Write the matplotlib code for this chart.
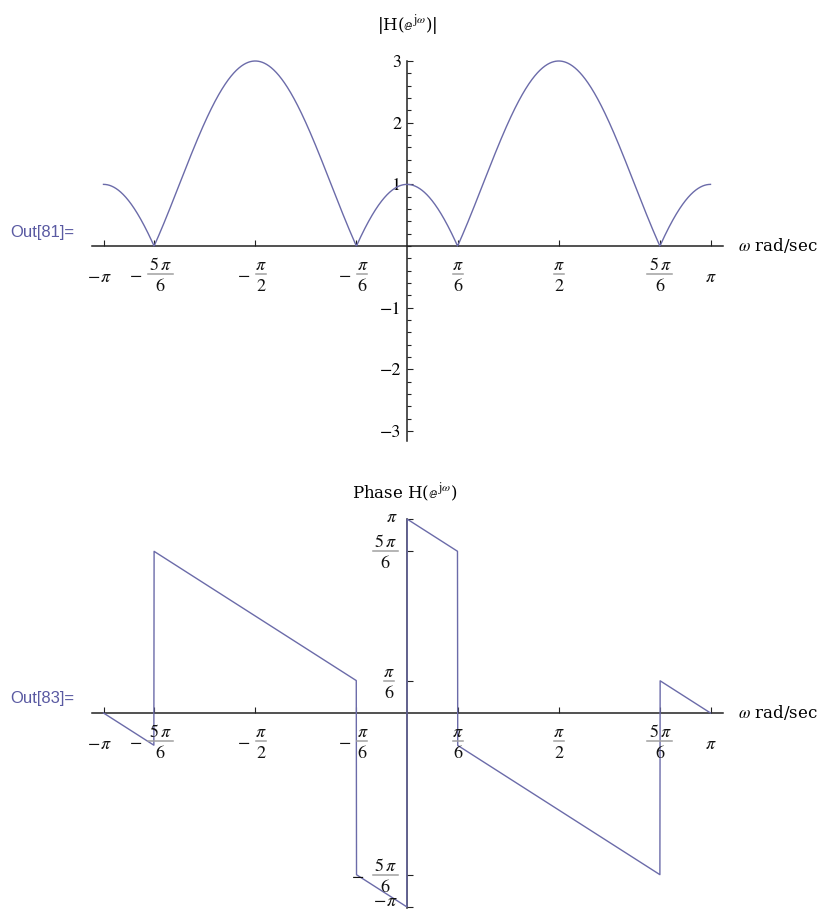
import numpy as np
import matplotlib
matplotlib.use("Agg")
import matplotlib.pyplot as plt
from matplotlib.lines import Line2D
from matplotlib.transforms import IdentityTransform

plt.rcParams['mathtext.fontset'] = 'stix'
plt.rcParams['font.family'] = ['STIXGeneral', 'DejaVu Serif']

# FIR filter: impulse response h[n] for n = -1 .. 3
n_index = np.array([-1, 0, 1, 2, 3])
h_coeffs = np.array([-1.0, 0.0, 1.0, 0.0, -1.0])

# frequency ticks on both plots: (value, sign, numerator, denominator)
x_ticks = [
    (-np.pi, "−", r"$\pi$", None),
    (-5 * np.pi / 6, "−", r"$5\,\pi$", "6"),
    (-np.pi / 2, "−", r"$\pi$", "2"),
    (-np.pi / 6, "−", r"$\pi$", "6"),
    (np.pi / 6, "", r"$\pi$", "6"),
    (np.pi / 2, "", r"$\pi$", "2"),
    (5 * np.pi / 6, "", r"$5\,\pi$", "6"),
    (np.pi, "", r"$\pi$", None),
]
mag_ticks = [-3, -2, -1, 1, 2, 3]
mag_labels = ["−3", "−2", "−1", "1", "2", "3"]
phase_ticks = [
    (-np.pi, "−", r"$\pi$", None),
    (-5 * np.pi / 6, "−", r"$5\,\pi$", "6"),
    (np.pi / 6, "", r"$\pi$", "6"),
    (5 * np.pi / 6, "", r"$5\,\pi$", "6"),
    (np.pi, "", r"$\pi$", None),
]

# frequency response H(e^{jw}) = sum h[n] e^{-jwn}
w = np.linspace(-np.pi, np.pi, 2400)
H = (h_coeffs[None, :] * np.exp(-1j * np.outer(w, n_index))).sum(axis=1)
mag = np.abs(H)
phase = np.angle(H)

W, HGT = 822, 911
fig = plt.figure(figsize=(W / 100, HGT / 100), dpi=100)

CURVE = "#6b6ba9"
AXC = "#222222"
FS = 13
TITLE_FONT = dict(family=["DejaVu Serif"], fontsize=12)


def add_axes_px(left, top, right, bottom):
    return fig.add_axes([left / W, 1 - bottom / HGT, (right - left) / W, (bottom - top) / HGT])


def style_axes(ax):
    for s in ("top", "right"):
        ax.spines[s].set_visible(False)
    for s in ("left", "bottom"):
        ax.spines[s].set_position(("data", 0))
        ax.spines[s].set_color(AXC)
        ax.spines[s].set_linewidth(1.1)
    ax.set_facecolor("none")
    ax.tick_params(which="both", direction="in", color=AXC, width=0.8)
    ax.tick_params(which="major", length=4.5)
    ax.tick_params(which="minor", length=2.6)
    ax.set_xticks([v for v, *_ in x_ticks])
    ax.set_xticklabels([""] * len(x_ticks))


def gray_bar(ax, x, y, dx, dy, width):
    px, py = ax.transData.transform((x, y))
    ln = Line2D([px + dx - width / 2, px + dx + width / 2], [py + dy, py + dy],
                transform=IdentityTransform(), color="#a0a0a0", lw=1.1)
    fig.add_artist(ln)


def fraction_label(ax, x, y, sign, num, den, dx, dy, bar_w, minus_gap=12, va_single="baseline"):
    """Draw a stacked fraction whose bar sits at pixel offset (dx, dy) from (x, y)."""
    kw = dict(xycoords="data", textcoords="offset pixels", fontsize=FS,
              annotation_clip=False, color="#111111")
    if den is None:
        ax.annotate(num, (x, y), xytext=(dx, dy), ha="center", va=va_single, **kw)
        if sign:
            ax.annotate(sign, (x, y), xytext=(dx - bar_w / 2 - 7, dy), ha="center",
                        va=va_single, **kw)
        return
    ax.annotate(num, (x, y), xytext=(dx, dy + 4), ha="center", va="baseline", **kw)
    ax.annotate(den, (x, y), xytext=(dx, dy - 5), ha="center", va="top", **kw)
    gray_bar(ax, x, y, dx, dy, bar_w)
    if sign:
        ax.annotate(sign, (x, y), xytext=(dx - bar_w / 2 - minus_gap, dy - 3),
                    ha="center", va="center", **kw)


def bar_width(num):
    return 25 if "5" in num else 10


def draw_x_labels(ax):
    for v, sign, num, den in x_ticks:
        if den is None:
            fraction_label(ax, v, 0, sign, num, den, 2 if sign else 0, -36, 9)
        else:
            dx = 6 if sign else 0
            fraction_label(ax, v, 0, sign, num, den, dx, -28, bar_width(num))


# x-extent shared by both plots (pixel columns of the axis line)
XL, XR, X0, XPI = 92, 723, 407, 710.5
sx = (XPI - X0) / np.pi
xlim = (-(X0 - XL) / sx, (XR - X0) / sx)

# ---------- magnitude ----------
ax1 = add_axes_px(XL, 61, XR, 441)
style_axes(ax1)
ax1.set_xlim(*xlim)
ax1.set_ylim(-3.16, 3.0)
ax1.plot(w, mag, color=CURVE, lw=1.0, clip_on=False, zorder=3)
ax1.set_yticks(mag_ticks)
ax1.set_yticklabels(mag_labels, fontsize=FS)
ax1.set_yticks(np.arange(-3.0, 3.01, 0.2), minor=True)
ax1.tick_params(axis="y", which="major", pad=4)
draw_x_labels(ax1)

fig.text(X0 / W, 1 - 25 / HGT, r"|H($\mathbb{e}^{\mathrm{j}\omega}$)|", ha="center",
         va="center", **TITLE_FONT)
fig.text(738 / W, 1 - 245 / HGT, r"$\omega$ rad/sec", ha="left", va="center", **TITLE_FONT)
fig.text(10 / W, 1 - 233 / HGT, "Out[81]=", ha="left", va="center", fontsize=12,
         family=["Liberation Sans", "DejaVu Sans"], color="#5a5aa2")

# ---------- phase ----------
ax2 = add_axes_px(XL, 519, XR, 908)
style_axes(ax2)
ax2.set_xlim(*xlim)
ax2.set_ylim(-(908 - 713) / ((713 - 519) / np.pi), np.pi)
ax2.plot(w, phase, color=CURVE, lw=1.0, clip_on=False, zorder=3)
ax2.set_yticks([v for v, *_ in phase_ticks])
ax2.set_yticklabels([""] * len(phase_ticks))
draw_x_labels(ax2)
for v, sign, num, den in phase_ticks:
    if den is None:
        fraction_label(ax2, 0, v, sign, num, den, -15, 5 if v < 0 else 1, 9,
                       va_single="center")
    else:
        fraction_label(ax2, 0, v, sign, num, den, -22 if "5" in num else -18, 0,
                       bar_width(num), minus_gap=14)

fig.text(405 / W, 1 - 493 / HGT, r"Phase H($\mathbb{e}^{\mathrm{j}\omega}$)", ha="center",
         va="center", **TITLE_FONT)
fig.text(738 / W, 1 - 712 / HGT, r"$\omega$ rad/sec", ha="left", va="center", **TITLE_FONT)
fig.text(10 / W, 1 - 699 / HGT, "Out[83]=", ha="left", va="center", fontsize=12,
         family=["Liberation Sans", "DejaVu Sans"], color="#5a5aa2")

fig.savefig("out.png", dpi=100, facecolor="white")
